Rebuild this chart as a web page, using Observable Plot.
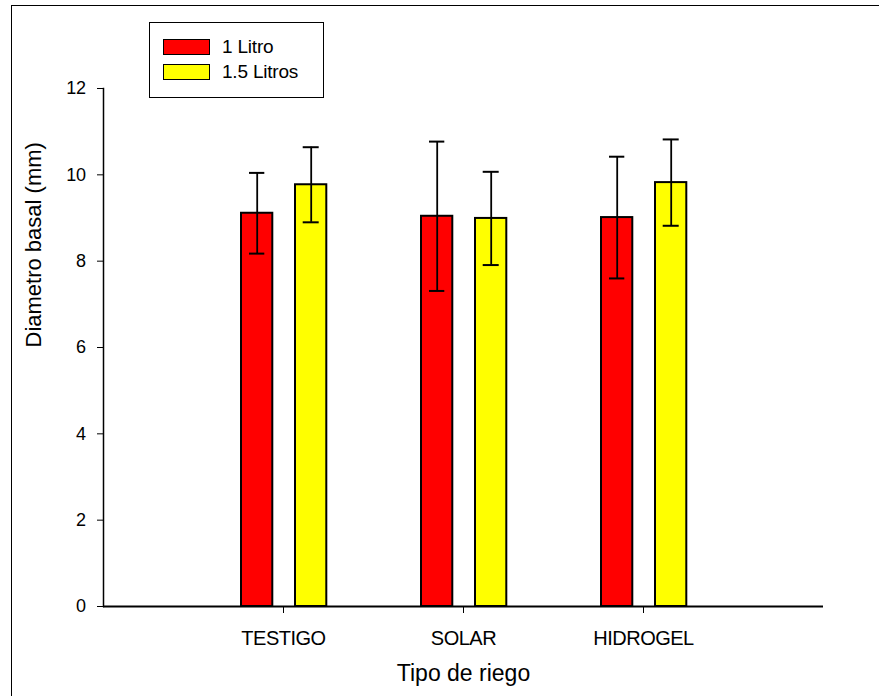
<!DOCTYPE html>
<html>
<head>
<meta charset="utf-8">
<script src="https://cdn.jsdelivr.net/npm/d3@7"></script>
<script src="https://cdn.jsdelivr.net/npm/@observablehq/plot@0.6"></script>
<style>
  body { margin: 0; background: #fff; font-family: "Liberation Sans", Arial, sans-serif; }
  #wrap { position: relative; width: 879px; height: 696px; overflow: hidden; background: #fff; }
  #outer { position: absolute; left: 11px; top: 5px; width: 920px; height: 740px; border: 1.5px solid #000; box-sizing: border-box; }
  #chart { position: absolute; left: 0; top: 0; }
  #legend { position: absolute; left: 149px; top: 22px; width: 175px; height: 76px; border: 1.5px solid #000; box-sizing: border-box; background: #fff; }
  .sw { position: absolute; left: 13px; width: 47px; height: 16px; border: 1.5px solid #000; box-sizing: border-box; }
  .lt { position: absolute; left: 72px; font-size: 19px; line-height: 19px; color: #000; letter-spacing: -0.2px; }
  #chart svg g[aria-label="x-axis tick label"] text { letter-spacing: -0.5px; }
  #chart svg g[aria-label="y-axis tick label"] text { letter-spacing: -0.4px; }
</style>
</head>
<body>
<div id="wrap">
  <div id="outer"></div>
  <div id="chart"></div>
  <div id="legend">
    <div class="sw" style="top:16px;background:#ff0000"></div>
    <div class="lt" style="top:14px">1 Litro</div>
    <div class="sw" style="top:41px;background:#ffff00"></div>
    <div class="lt" style="top:39px">1.5 Litros</div>
  </div>
</div>
<script>
const categories = ["TESTIGO", "SOLAR", "HIDROGEL"];
const seriesNames = ["1 Litro", "1.5 Litros"];
const mean1 = [9.11, 9.04, 9.01];
const err1 = [0.935, 1.73, 1.41];
const mean15 = [9.77, 8.99, 9.82];
const err15 = [0.87, 1.08, 1.0];
const yTicks = [0, 2, 4, 6, 8, 10, 12];
const xLabel = "Tipo de riego";
const yLabel = "Diametro basal (mm)";

const rows1 = categories.map((c, i) => ({cat: c, series: seriesNames[0], mean: mean1[i], lo: mean1[i] - err1[i], hi: mean1[i] + err1[i]}));
const rows15 = categories.map((c, i) => ({cat: c, series: seriesNames[1], mean: mean15[i], lo: mean15[i] - err15[i], hi: mean15[i] + err15[i]}));

const chart = Plot.plot({
  width: 879,
  height: 696,
  marginLeft: 103,
  marginRight: 56,
  marginTop: 88,
  marginBottom: 90,
  style: {fontFamily: '"Liberation Sans", Arial, sans-serif', background: "transparent", overflow: "visible", color: "#000"},
  x: {type: "band", domain: categories, paddingInner: 0, paddingOuter: 0.5, label: null},
  y: {domain: [0, 12], label: null},
  marks: [
    Plot.barY(rows1, {x: "cat", y: "mean", fill: "#ff0000", stroke: "#000", strokeWidth: 2, insetLeft: 48, insetRight: 100.7}),
    Plot.barY(rows15, {x: "cat", y: "mean", fill: "#ffff00", stroke: "#000", strokeWidth: 2, insetLeft: 102, insetRight: 46.7}),
    Plot.ruleX(rows1, {x: "cat", y1: "lo", y2: "hi", dx: -26.3, stroke: "#000", strokeWidth: 1.8}),
    Plot.ruleX(rows15, {x: "cat", y1: "lo", y2: "hi", dx: 27.7, stroke: "#000", strokeWidth: 1.8}),
    Plot.tickY(rows1, {x: "cat", y: "hi", insetLeft: 56, insetRight: 108.7, stroke: "#000", strokeWidth: 2}),
    Plot.tickY(rows1, {x: "cat", y: "lo", insetLeft: 56, insetRight: 108.7, stroke: "#000", strokeWidth: 2}),
    Plot.tickY(rows15, {x: "cat", y: "hi", insetLeft: 109.7, insetRight: 54.3, stroke: "#000", strokeWidth: 2}),
    Plot.tickY(rows15, {x: "cat", y: "lo", insetLeft: 109.7, insetRight: 54.3, stroke: "#000", strokeWidth: 2}),
    Plot.ruleY([0], {stroke: "#000", strokeWidth: 2}),
    Plot.frame({anchor: "left", stroke: "#000", strokeWidth: 1.5}),
    Plot.axisY({ticks: yTicks, tickSize: 6, tickPadding: 12, fontSize: 18, label: null, tickFormat: d => String(d)}),
    Plot.axisX({tickSize: 7, tickPadding: 17, fontSize: 20, label: null}),
    Plot.text([yLabel], {text: d => d, frameAnchor: "left", dx: -70, rotate: -90, fontSize: 22, fill: "#000"}),
    Plot.text([xLabel], {text: d => d, frameAnchor: "bottom", dy: 74, fontSize: 23, fill: "#000"})
  ]
});
document.getElementById("chart").appendChild(chart);
</script>
</body>
</html>
